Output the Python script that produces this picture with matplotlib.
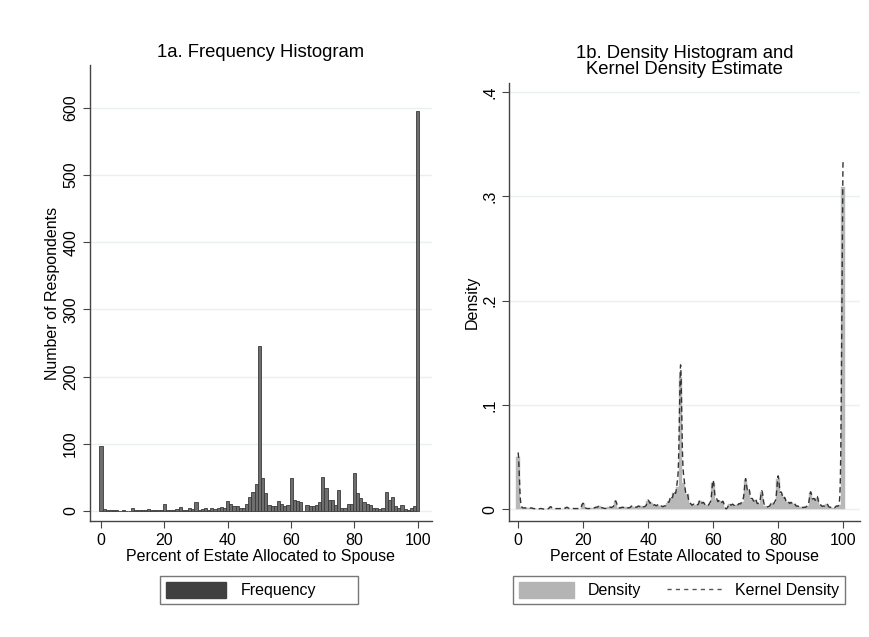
import numpy as np
import matplotlib
matplotlib.use('Agg')
from matplotlib import pyplot
from matplotlib.patches import Patch
from matplotlib.lines import Line2D

# percent of estate allocated to spouse, one bin per integer percent
pct = np.arange(0, 101)
freq = [97, 3, 2, 2, 2, 1, 0, 1, 0, 0,
        4, 1, 1, 1, 1, 3, 1, 1, 1, 1,
        10, 1, 1, 2, 3, 6, 2, 1, 4, 3,
        14, 2, 3, 4, 2, 5, 3, 5, 6, 4,
        15, 11, 7, 7, 5, 5, 11, 21, 29, 40,
        245, 49, 27, 9, 8, 7, 15, 11, 7, 9,
        49, 17, 15, 13, 0, 9, 8, 8, 9, 14,
        51, 34, 17, 17, 9, 31, 5, 4, 11, 11,
        56, 27, 19, 13, 11, 9, 5, 4, 3, 5,
        29, 17, 21, 7, 5, 9, 3, 2, 5, 8,
        595]
freq = np.array(freq, dtype=float)
density = freq / freq.sum()

# gaussian kernel density of the binned responses
bw = 0.37
grid = np.linspace(0, 100, 2001)
kde = (density[None, :] * np.exp(-0.5 * ((grid[:, None] - pct[None, :]) / bw) ** 2)).sum(axis=1)
kde = kde / (bw * np.sqrt(2 * np.pi))

pyplot.rcParams['font.family'] = 'Liberation Sans'
pyplot.rcParams['font.size'] = 11

grid_col = '#e8f0f0'
spine_col = '#444444'


def style_axes(ax):
    for s in ['top', 'right']:
        ax.spines[s].set_visible(False)
    for s in ['left', 'bottom']:
        ax.spines[s].set_color(spine_col)
        ax.spines[s].set_linewidth(1.0)
    ax.tick_params(direction='out', length=5, color=spine_col, labelsize=11.5)
    ax.yaxis.grid(True, color=grid_col, linewidth=1.0)
    ax.set_axisbelow(True)
    for lab in ax.get_yticklabels():
        lab.set_rotation(90)
        lab.set_va('center')


fig = pyplot.figure(figsize=(8.7, 6.37), dpi=100)

# 1a: frequency histogram
ax1 = fig.add_axes([0.1034, 0.182, 0.3932, 0.716])
ax1.bar(pct, freq, width=1.0, color='#6e6e6e', edgecolor='#3a3a3a', linewidth=0.6)
ax1.set_xlim(-3.5, 104.5)
ax1.set_ylim(-15, 664)
ax1.set_xticks([0, 20, 40, 60, 80, 100])
ax1.set_yticks([0, 100, 200, 300, 400, 500, 600])
style_axes(ax1)
ax1.set_xlabel('Percent of Estate Allocated to Spouse', fontsize=11.5, labelpad=1)
ax1.set_ylabel('Number of Respondents', fontsize=11.5, labelpad=2)
ax1.set_title('1a. Frequency Histogram', fontsize=13.3, pad=6)

# 1b: density histogram with kernel density
ax2 = fig.add_axes([0.585, 0.182, 0.4035, 0.688])
ax2.bar(pct, density, width=1.0, color='#b8b8b8', edgecolor='#b8b8b8', linewidth=0.3)
ax2.plot(grid, kde, color='#333333', linestyle=(0, (4, 2.5)), linewidth=1.0)
ax2.set_xlim(-2.8, 105.2)
ax2.set_ylim(-0.0115, 0.409)
ax2.set_xticks([0, 20, 40, 60, 80, 100])
ax2.set_yticks([0, 0.1, 0.2, 0.3, 0.4])
ax2.set_yticklabels(['0', '.1', '.2', '.3', '.4'])
style_axes(ax2)
ax2.set_xlabel('Percent of Estate Allocated to Spouse', fontsize=11.5, labelpad=1)
ax2.set_ylabel('Density', fontsize=11.5, labelpad=2)
ax2.set_title('1b. Density Histogram and\nKernel Density Estimate', fontsize=13.3, pad=6, linespacing=0.95)

# legends stretched to fixed-width boxes under each panel
leg1 = fig.legend(handles=[Patch(facecolor='#404040', edgecolor='#404040', label='Frequency')],
                  loc='lower left', bbox_to_anchor=(160 / 870, 33 / 637, 198 / 870, 0.04),
                  mode='expand', fontsize=11.5, frameon=True,
                  fancybox=False, handlelength=3.8, handleheight=1.2, handletextpad=0.9,
                  borderpad=0.35, borderaxespad=0)
leg1.get_frame().set_edgecolor('#555555')
leg1.get_frame().set_linewidth(1.0)

leg2 = fig.legend(handles=[Patch(facecolor='#b4b4b4', edgecolor='#b4b4b4', label='Density'),
                           Line2D([], [], color='#555555', linestyle=(0, (3, 3)), linewidth=1.0,
                                  label='Kernel Density')],
                  loc='lower left', bbox_to_anchor=(513 / 870, 33 / 637, 332 / 870, 0.04),
                  mode='expand', ncol=2, fontsize=11.5, frameon=True,
                  fancybox=False, handlelength=3.5, handleheight=1.2, handletextpad=0.8,
                  columnspacing=1.7, borderpad=0.35, borderaxespad=0)
leg2.get_frame().set_edgecolor('#555555')
leg2.get_frame().set_linewidth(1.0)

fig.savefig('out.png', dpi=100)
